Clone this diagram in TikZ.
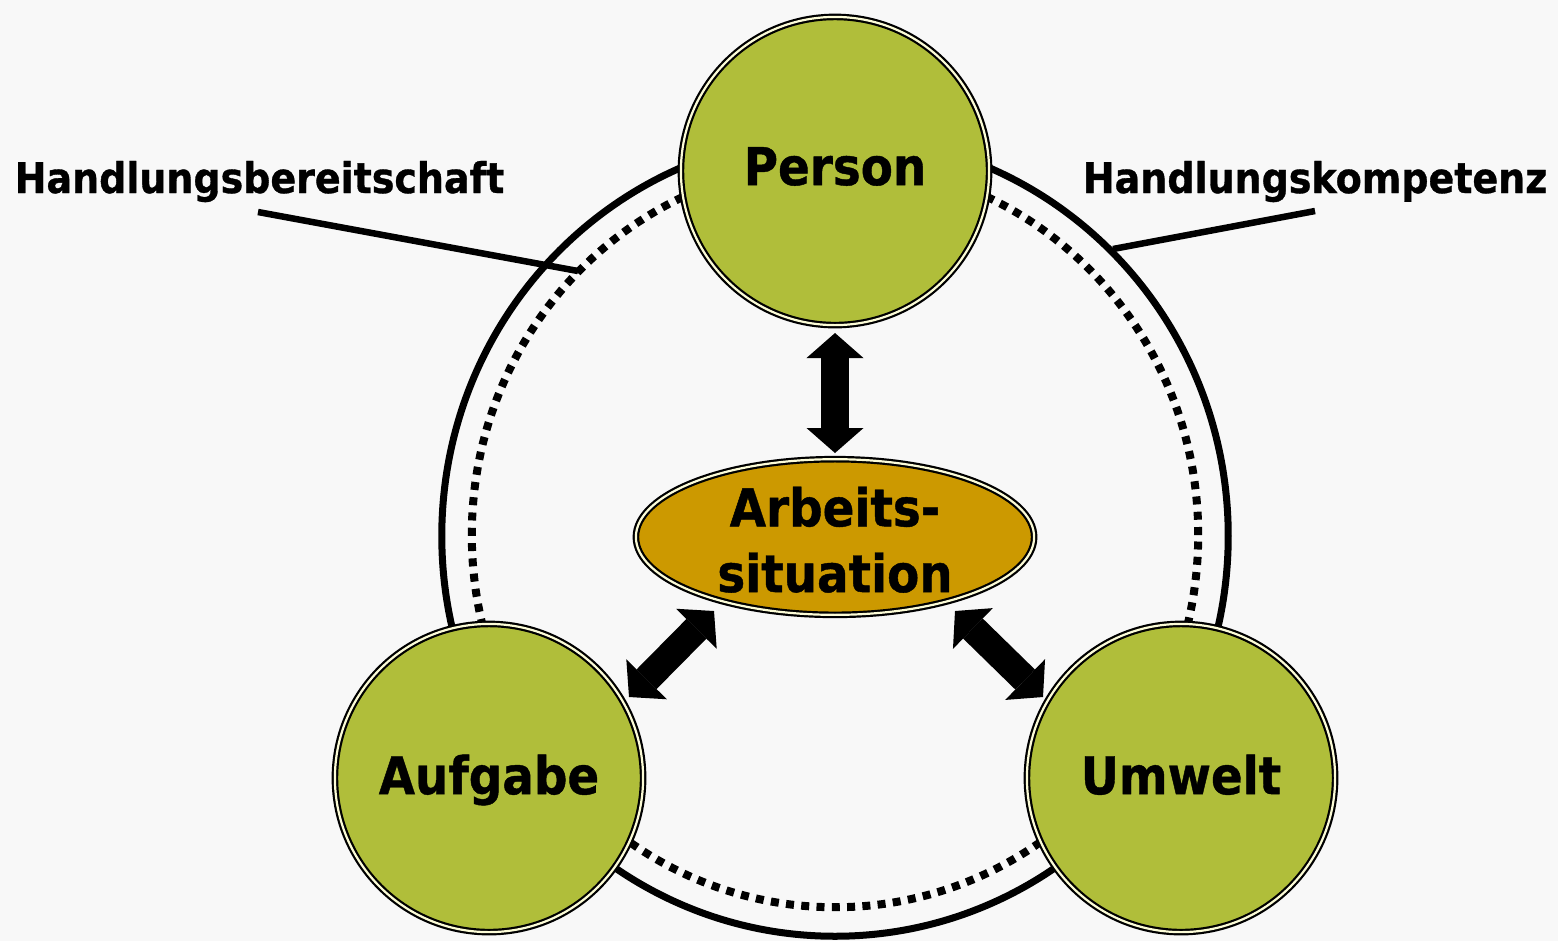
\documentclass[tikz,border=0pt]{standalone}
\usepackage{fontspec}
\setmainfont{DejaVu Sans}[FakeStretch=0.9, BoldFeatures={FakeBold=0.8}]
\usetikzlibrary{shapes.geometric,arrows.meta}
\definecolor{bgc}{RGB}{248,248,248}
\definecolor{olivefill}{RGB}{176,190,58}
\definecolor{goldfill}{RGB}{204,153,0}
\definecolor{rimc}{RGB}{252,252,215}
\tikzset{
  ringsolid/.style={line width=0.07cm},
  ringdotted/.style={line width=0.08cm, dash pattern=on 0.08cm off 0.073cm},
  labelline/.style={line width=0.065cm},
  rimmed/.style={draw=black, line width=0.022cm, double=rimc, double distance=0.022cm, inner sep=0pt, outer sep=0pt},
  bigball/.style={rimmed, circle, fill=olivefill, minimum size=3.08cm,
    font=\fontsize{14.8pt}{18.5pt}\selectfont\bfseries, text height=0.8em, text depth=0pt},
  lowtext/.style={text height=0.92em},
  centerell/.style={rimmed, ellipse, fill=goldfill, minimum width=3.98cm, minimum height=1.55cm,
    align=center, text height=1.10cm, text depth=0pt, font=\fontsize{14.8pt}{18.7pt}\selectfont\bfseries},
  sidelabel/.style={inner sep=0pt, font=\fontsize{12pt}{14pt}\selectfont\bfseries},
  blockarrow/.style={line width=0.28cm,
    {Triangle[width=0.57cm,length=0.25cm,line width=0pt]}-{Triangle[width=0.57cm,length=0.25cm,line width=0pt]}}
}
\begin{document}
\begin{tikzpicture}[x=0.01cm, y=-0.01cm]
  \fill[bgc] (0,0) rectangle (1558,941);
  \useasboundingbox (0,0) rectangle (1558,941);
  % rings
  \coordinate (ringc) at (835,536);
  \coordinate (dotc) at (835,535);
  \draw[ringsolid] (ringc) ellipse [x radius=3.93cm, y radius=4.0cm];
  \draw[ringdotted] (dotc) ellipse [x radius=3.63cm, y radius=3.72cm];
  % labels
  \node[sidelabel, anchor=base west] (hb) at (14,193) {Handlungsbereitschaft};
  \node[sidelabel, anchor=base east] (hk) at (1548,193) {Handlungskompetenz};
  \coordinate (hbs) at (258,212);
  \coordinate (hbe) at (578,271);
  \coordinate (hks) at (1315,211);
  \coordinate (hke) at (1113,249);
  \draw[labelline] (hbs) -- (hbe);
  \draw[labelline] (hks) -- (hke);
  % nodes
  \node[bigball] (person) at (835,171) {Person};
  \node[bigball, lowtext] (aufgabe) at (489,778) {Aufgabe};
  \node[bigball, lowtext] (umwelt) at (1181,778) {Umwelt};
  \node[centerell] (arb) at (835,537) {Arbeits-\\situation};
  % arrows
  \coordinate (v1) at (835,333);
  \coordinate (v2) at (835,453);
  \coordinate (l1) at (629,697);
  \coordinate (l2) at (714,611);
  \coordinate (r1) at (955,611);
  \coordinate (r2) at (1043,697);
  \draw[blockarrow] (v1) -- (v2);
  \draw[blockarrow] (l1) -- (l2);
  \draw[blockarrow] (r1) -- (r2);
\end{tikzpicture}
\end{document}
